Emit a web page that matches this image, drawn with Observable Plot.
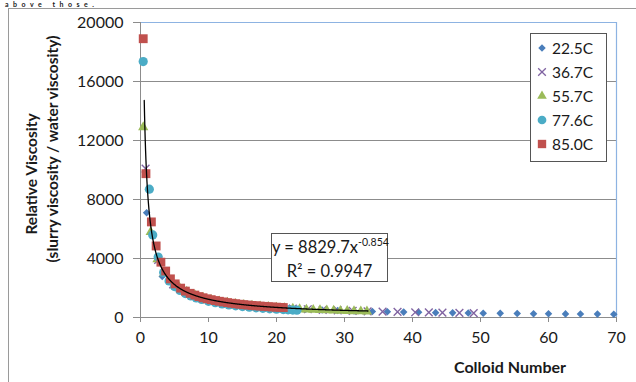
<!DOCTYPE html>
<html>
<head>
<meta charset="utf-8">
<script src="https://cdn.jsdelivr.net/npm/d3@7"></script>
<script src="https://cdn.jsdelivr.net/npm/@observablehq/plot@0.6"></script>
<style>
  html, body { margin: 0; padding: 0; background: #fff; }
  #wrap { position: relative; width: 636px; height: 382px; overflow: hidden; font-family: Lato, "Open Sans", sans-serif; color: #1a1a1a; }
  #frame { position: absolute; left: 8px; top: 8px; width: 800px; height: 600px; border: 1px solid #9a9a9a; box-sizing: border-box; }
  #cut { position: absolute; left: 5px; top: 1px; font-weight: bold; font-size: 7px; line-height: 7px; letter-spacing: 4.5px; white-space: nowrap; }
  #chart { position: absolute; left: 0; top: 0; }
  .ytitle { position: absolute; font-weight: bold; font-size: 15.5px; white-space: nowrap; transform: translate(-50%, -50%) rotate(-90deg); }
  #xtitle { position: absolute; font-weight: bold; font-size: 16px; white-space: nowrap; transform: translate(-50%, -50%); }
  #legend { position: absolute; left: 530px; top: 33px; width: 77px; height: 129px; border: 1px solid #555; background: #fff; box-sizing: border-box; }
  .lrow { position: absolute; left: 0; height: 22px; display: flex; align-items: center; font-size: 15.5px; }
  .lrow svg { margin-left: 5px; margin-right: 4px; }
  #trend { position: absolute; left: 271px; top: 233px; width: 117px; height: 49px; border: 1px solid #555; background: #fff; box-sizing: border-box; font-size: 16.5px; text-align: center; line-height: 22px; padding-top: 2px; white-space: nowrap; }
  #trend sup { font-size: 10.5px; vertical-align: 0; position: relative; top: -7px; }
</style>
</head>
<body>
<div id="wrap">
  <div id="frame"></div>
  <div id="cut">above those.</div>
  <div id="chart"></div>
  <div class="ytitle" id="yt1" style="left:31px; top:174px;">Relative Viscosity</div>
  <div class="ytitle" id="yt2" style="left:52px; top:149px;">(slurry viscosity / water viscosity)</div>
  <div id="xtitle" style="left:510px; top:366px;">Colloid Number</div>
  <div id="trend"></div>
  <div id="legend"></div>
</div>
<script>
// ---- data ----
const seriesNames = ["22.5C", "36.7C", "55.7C", "77.6C", "85.0C"];
const seriesColors = ["#4A7EBB", "#8064A2", "#9BBB59", "#4BACC6", "#C0504D"];

const x225 = [0.9, 3.2, 5.5, 7.9, 10.2, 12.5, 14.9, 17.2, 19.6, 21.9, 24.3, 26.7, 29.0, 31.4, 34.1, 36.3, 38.7, 40.9, 43.4, 45.9, 48.2, 50.4, 52.9, 55.4, 57.8, 60.0, 62.5, 64.7, 67.2, 69.6];
const y225 = [7100, 2780, 1900, 1420, 1150, 980, 860, 760, 680, 620, 560, 510, 475, 440, 410, 390, 365, 350, 330, 315, 300, 290, 280, 270, 260, 250, 245, 235, 230, 225];

const x367 = [0.75, 2.6, 4.8, 7.0, 9.2, 11.4, 13.6, 15.8, 18.0, 20.2, 22.4, 24.6, 26.8, 29.0, 31.2, 33.4, 35.6, 37.8, 40.4, 42.4, 44.4, 46.9, 49.0];
const y367 = [10100, 3900, 2250, 1640, 1290, 1080, 930, 820, 735, 670, 610, 560, 515, 480, 450, 420, 395, 375, 355, 340, 325, 310, 300];

const x557 = [0.4, 1.5, 2.5, 3.5, 4.6, 5.7, 6.8, 8.0, 9.2, 10.4, 11.6, 12.8, 14.0, 15.2, 16.4, 17.6, 18.8, 20.0, 21.2, 22.4, 23.4, 24.4, 25.4, 26.4, 27.4, 28.4, 29.4, 30.4, 31.4, 32.4, 33.3];
const y557 = [12900, 5800, 3950, 3000, 2430, 2050, 1760, 1520, 1340, 1200, 1090, 1000, 925, 860, 805, 755, 712, 675, 640, 600, 560, 540, 520, 500, 485, 470, 455, 440, 428, 416, 405];

const x776 = [0.4, 1.3, 1.8, 2.6, 3.4, 4.2, 5.0, 5.8, 6.6, 7.4, 8.2, 9.0, 10.0, 11.0, 12.0, 13.0, 14.0, 15.0, 16.0, 17.0, 18.0, 19.0, 20.0, 21.0, 21.7, 22.4, 23.0];
const y776 = [17350, 8700, 5600, 4100, 3050, 2480, 2100, 1830, 1620, 1460, 1330, 1220, 1100, 1000, 920, 850, 790, 740, 695, 655, 620, 590, 560, 535, 520, 505, 495];

const x850 = [0.4, 0.8, 1.6, 2.3, 3.0, 3.7, 4.4, 5.1, 5.9, 6.6, 7.3, 8.0, 8.6, 9.2, 9.8, 10.4, 11.0, 11.6, 12.2, 12.8, 13.4, 14.0, 14.6, 15.2, 15.8, 16.4, 17.0, 17.6, 18.2, 18.8, 19.4, 20.0, 20.6, 21.0];
const y850 = [18900, 9750, 6480, 4850, 3750, 3150, 2620, 2280, 1990, 1790, 1640, 1520, 1420, 1340, 1270, 1210, 1150, 1100, 1055, 1010, 970, 935, 900, 870, 845, 820, 795, 775, 755, 735, 715, 700, 685, 675];

// power trendline as labelled on the chart
const trendA = 8829.7, trendB = -0.854, trendR2 = "0.9947";
const trendXStart = 0.55, trendXEnd = 33.5;

const xTicks = [0, 10, 20, 30, 40, 50, 60, 70];
const yTicks = [0, 4000, 8000, 12000, 16000, 20000];

// ---- build ----
const zip = (xs, ys, s) => xs.map((x, i) => ({x, y: ys[i], s}));
const d225 = zip(x225, y225, seriesNames[0]);
const d367 = zip(x367, y367, seriesNames[1]);
const d557 = zip(x557, y557, seriesNames[2]);
const d776 = zip(x776, y776, seriesNames[3]);
const d850 = zip(x850, y850, seriesNames[4]);
const trend = d3.range(trendXStart, trendXEnd, 0.05).map(x => ({x, y: trendA * Math.pow(x, trendB)}));

const grid = "#8c8c8c";
const plot = Plot.plot({
  width: 636, height: 382,
  marginLeft: 140, marginRight: 20, marginTop: 22, marginBottom: 65,
  x: {domain: [0, 70]},
  y: {domain: [0, 20000]},
  style: {fontFamily: "Lato, 'Open Sans', sans-serif", fontSize: "16px", color: "#1a1a1a", background: "transparent"},
  marks: [
    Plot.ruleY(yTicks.filter(v => v > 0 && v < 20000), {stroke: grid, strokeWidth: 1}),
    Plot.ruleY([20000], {stroke: "#8db3e2", strokeWidth: 1.2}),
    Plot.ruleX([70], {stroke: "#8db3e2", strokeWidth: 1.2}),
    Plot.ruleX([0], {stroke: grid}),
    Plot.ruleY([0], {stroke: grid}),
    Plot.axisY(yTicks, {tickSize: 7, tickPadding: 10, stroke: grid, fill: "#1a1a1a", label: null, tickFormat: d => String(d)}),
    Plot.axisX(xTicks, {tickSize: 5, tickPadding: 9, stroke: grid, fill: "#1a1a1a", label: null, tickFormat: d => String(d)}),
    Plot.dot(d225, {x: "x", y: "y", symbol: "diamond2", fill: seriesColors[0], r: 3.4}),
    Plot.dot(d367, {x: "x", y: "y", symbol: "times", stroke: seriesColors[1], strokeWidth: 1.4, r: 3.6}),
    Plot.dot(d557, {x: "x", y: "y", symbol: "triangle", fill: seriesColors[2], r: 3.8}),
    Plot.dot(d776, {x: "x", y: "y", symbol: "circle", fill: seriesColors[3], r: 4.6}),
    Plot.dot(d850, {x: "x", y: "y", symbol: "square", fill: seriesColors[4], r: 5.0}),
    Plot.line(trend, {x: "x", y: "y", stroke: "#000", strokeWidth: 1.3})
  ]
});
document.getElementById("chart").appendChild(plot);

// legend
const shapes = [
  {sym: d3.symbolDiamond2, size: 36, fill: true},
  {sym: d3.symbolTimes, size: 40, fill: false},
  {sym: d3.symbolTriangle, size: 40, fill: true},
  {sym: d3.symbolCircle, size: 60, fill: true},
  {sym: d3.symbolSquare, size: 70, fill: true}
];
const legend = document.getElementById("legend");
seriesNames.forEach((name, i) => {
  const row = document.createElement("div");
  row.className = "lrow";
  row.style.top = (3 + i * 24) + "px";
  const sh = shapes[i];
  const path = d3.symbol(sh.sym, sh.size)();
  row.innerHTML = `<svg width="12" height="12" viewBox="-6 -6 12 12"><path d="${path}" ${sh.fill ? `fill="${seriesColors[i]}"` : `fill="none" stroke="${seriesColors[i]}" stroke-width="1.3"`}/></svg><span>${name}</span>`;
  legend.appendChild(row);
});

// trendline label
document.getElementById("trend").innerHTML =
  `y = ${trendA}x<sup>${trendB}</sup><br>R² = ${trendR2}`;
</script>
</body>
</html>
